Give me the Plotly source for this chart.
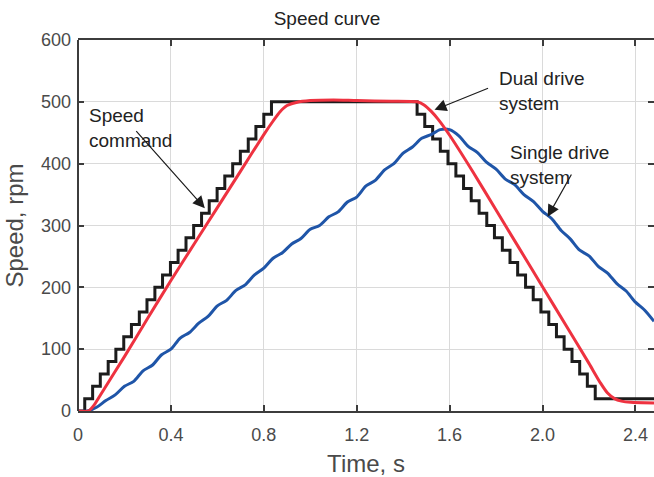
import plotly.graph_objects as go

# ---- data ----
cmd_t = [0.0, 0.029, 0.063, 0.096, 0.130, 0.163, 0.197, 0.230, 0.264, 0.297, 0.331,
         0.364, 0.398, 0.431, 0.465, 0.498, 0.532, 0.565, 0.599, 0.632, 0.666,
         0.699, 0.733, 0.766, 0.800, 0.833,
         1.460, 1.493, 1.527, 1.560, 1.593, 1.627, 1.660, 1.693, 1.727, 1.760,
         1.793, 1.827, 1.860, 1.893, 1.927, 1.960, 1.993, 2.027, 2.060, 2.093,
         2.127, 2.160, 2.193, 2.227, 2.480]
cmd_v = [0, 20, 40, 60, 80, 100, 120, 140, 160, 180, 200,
         220, 240, 260, 280, 300, 320, 340, 360, 380, 400,
         420, 440, 460, 480, 500,
         480, 460, 440, 420, 400, 380, 360, 340, 320, 300,
         280, 260, 240, 220, 200, 180, 160, 140, 120, 100,
         80, 60, 40, 20, 20]

dual_t = [0.0, 0.045, 0.07, 0.10, 0.20, 0.30, 0.40, 0.50, 0.60, 0.70, 0.80, 0.84, 0.87,
          0.90, 0.94, 1.00, 1.10, 1.20, 1.35, 1.46, 1.49, 1.52, 1.55, 1.60, 1.70,
          1.80, 1.90, 2.00, 2.10, 2.20, 2.25, 2.28, 2.31, 2.34, 2.38, 2.48]
dual_v = [0, 0, 10, 28, 88, 150, 211, 270, 329, 388, 447, 469, 484,
          494, 499, 502, 503, 502, 501, 500, 495, 485, 472, 446, 387,
          325, 263, 201, 139, 77, 45, 29, 20, 16, 14, 13]

single_t = [0.00, 0.04, 0.08, 0.12, 0.16, 0.20, 0.24, 0.28, 0.32, 0.36, 0.40, 0.44,
            0.48, 0.52, 0.56, 0.60, 0.64, 0.68, 0.72, 0.76, 0.80, 0.84, 0.88,
            0.92, 0.96, 1.00, 1.04, 1.08, 1.12, 1.16, 1.20, 1.24, 1.28, 1.32,
            1.36, 1.40, 1.44, 1.48, 1.52, 1.56, 1.60, 1.64, 1.68, 1.72, 1.76,
            1.80, 1.84, 1.88, 1.92, 1.96, 2.00, 2.04, 2.08, 2.12, 2.16, 2.20,
            2.24, 2.28, 2.32, 2.36, 2.40, 2.44, 2.48]
single_v = [0, 0, 6, 17, 26, 40, 48, 65, 74, 91, 100, 118,
            127, 142, 153, 170, 179, 195, 204, 220, 231, 247, 256,
            270, 279, 294, 300, 314, 322, 338, 346, 364, 373, 390,
            400, 417, 427, 441, 447, 455, 455, 445, 428, 418, 402,
            391, 375, 366, 350, 339, 323, 311, 292, 278, 260, 251,
            234, 223, 206, 194, 176, 163, 145]

x_ticks = [0, 0.4, 0.8, 1.2, 1.6, 2.0, 2.4]
x_tick_text = ["0", "0.4", "0.8", "1.2", "1.6", "2.0", "2.4"]
y_ticks = [0, 100, 200, 300, 400, 500, 600]

FONT = "Liberation Sans, Arial, sans-serif"
AXC = "#3c3c3c"
TXT = "#4a4a4a"

fig = go.Figure()
fig.add_trace(go.Scatter(x=cmd_t, y=cmd_v, mode="lines", line_shape="hv",
                         line=dict(color="#1c1c1c", width=3), showlegend=False))
fig.add_trace(go.Scatter(x=single_t, y=single_v, mode="lines", line_shape="spline",
                         line=dict(color="#1f55a8", width=3, smoothing=0.8), showlegend=False))
fig.add_trace(go.Scatter(x=dual_t, y=dual_v, mode="lines", line_shape="spline",
                         line=dict(color="#ee3240", width=3, smoothing=0.6), showlegend=False))

# text labels
labels = [
    (0.039, 458, "Speed<br>command"),
    (1.802, 518, "Dual drive<br>system"),
    (1.853, 398, "Single drive<br>system"),
]
for x, y, t in labels:
    fig.add_annotation(x=x, y=y, text=t, showarrow=False, xanchor="left", yanchor="middle",
                       align="left", font=dict(family=FONT, size=19, color="#222222"))

# arrows (tip, tail)
arrows = [
    ((0.546, 328), (0.245, 455)),
    ((1.535, 487), (1.772, 523)),
    ((2.022, 314), (2.128, 385)),
]
for (x, y), (ax, ay) in arrows:
    fig.add_annotation(x=x, y=y, ax=ax, ay=ay, axref="x", ayref="y", text="",
                       showarrow=True, arrowhead=2, arrowsize=2.0, arrowwidth=1.2,
                       arrowcolor="#1c1c1c")

fig.add_shape(type="line", xref="paper", yref="paper", x0=0, x1=0, y0=0, y1=1,
              line=dict(color=AXC, width=2), layer="above")

fig.update_layout(
    width=654, height=477,
    margin=dict(l=78, r=0, t=40, b=66, autoexpand=False),
    paper_bgcolor="white", plot_bgcolor="white",
    font=dict(family=FONT, color=TXT),
    title=dict(text="Speed curve", x=0.5, xanchor="center", y=0.962, yanchor="middle",
               font=dict(family=FONT, size=19, color="#222222")),
    xaxis=dict(range=[0, 2.48], tickvals=x_ticks, ticktext=x_tick_text,
               automargin=False,
               showgrid=True, gridcolor="#dadada", gridwidth=1,
               showline=True, linecolor=AXC, linewidth=2, mirror="ticks",
               ticks="inside", ticklen=6, tickwidth=1.5, tickcolor=AXC,
               zeroline=False, tickfont=dict(size=18, color=TXT),
               ticklabelstandoff=6,
               title=dict(text="Time, s", font=dict(size=24, color=TXT), standoff=12)),
    yaxis=dict(range=[0, 600], tickvals=y_ticks, automargin=False,
               showgrid=True, gridcolor="#dadada", gridwidth=1,
               showline=False, mirror="ticks",
               ticks="inside", ticklen=6, tickwidth=1.5, tickcolor=AXC,
               zeroline=False, tickfont=dict(size=18, color=TXT),
               ticklabelstandoff=6,
               title=dict(text="Speed, rpm", font=dict(size=24, color=TXT), standoff=10)),
)

fig.write_html("out.html", config={"displayModeBar": False},
               post_script="document.body.style.margin='0';document.body.style.padding='0';"
                           "document.body.style.overflow='hidden';")
